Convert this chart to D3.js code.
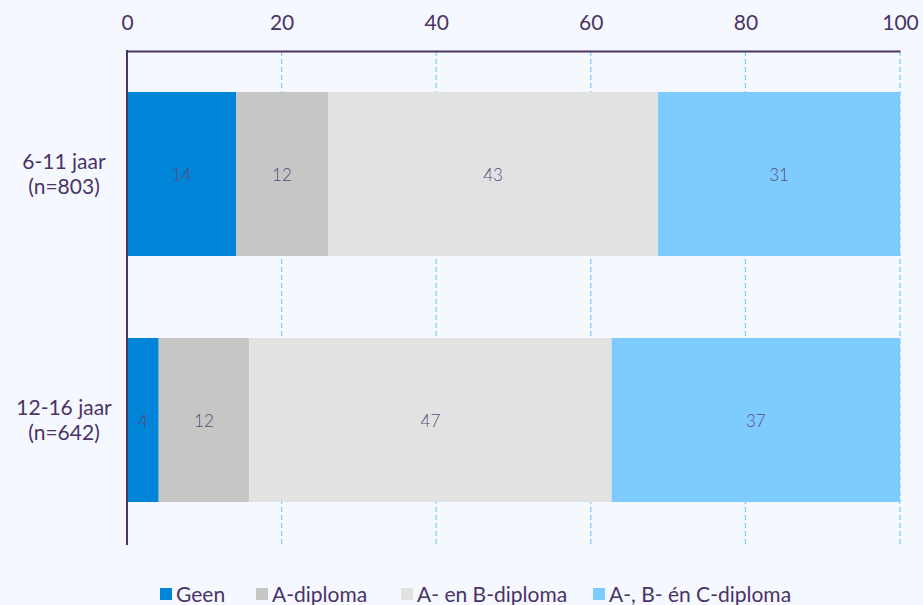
<!DOCTYPE html>
<html><head><meta charset="utf-8">
<script src="https://cdn.jsdelivr.net/npm/d3@7"></script>
<style>
html,body{margin:0;padding:0;background:#f5f8fe;}
svg{display:block;font-family:Lato, "Open Sans", sans-serif;}
</style></head>
<body>
<svg id="c" width="923" height="605"></svg>
<script>
const categories = ["6-11 jaar|(n=803)", "12-16 jaar|(n=642)"];
const seriesNames = ["Geen", "A-diploma", "A- en B-diploma", "A-, B- én C-diploma"];
const geen = [14.1, 4.1];
const aDiploma = [11.9, 11.7];
const abDiploma = [42.7, 46.9];
const abcDiploma = [31.3, 37.3];
const labelsGeen = [14, 4];
const labelsA = [12, 12];
const labelsAB = [43, 47];
const labelsABC = [31, 37];
const xTicks = [0, 20, 40, 60, 80, 100];
const colors = ["#0085d8", "#c6c6c4", "#e2e2e2", "#7ecbff"];

const series = [geen, aDiploma, abDiploma, abcDiploma];
const labels = [labelsGeen, labelsA, labelsAB, labelsABC];

const svg = d3.select("#c");
const x = d3.scaleLinear().domain([0, 100]).range([127, 900]);
const y = d3.scaleBand().domain(categories).range([51, 543]).paddingInner(1/3).paddingOuter(1/6);
const textCol = "#4a3466";

// gridlines
svg.append("g").selectAll("line").data(xTicks.filter(d => d > 0)).join("line")
  .attr("x1", d => x(d)).attr("x2", d => x(d)).attr("y1", 51).attr("y2", 545)
  .attr("stroke", "#80c8f8").attr("stroke-width", 1.2).attr("stroke-dasharray", "5,3");

// bars
categories.forEach((cat, i) => {
  let acc = 0;
  series.forEach((s, k) => {
    const v = s[i];
    svg.append("rect").attr("x", x(acc)).attr("y", y(cat))
      .attr("width", x(acc + v) - x(acc)).attr("height", y.bandwidth())
      .attr("fill", colors[k]);
    svg.append("text").attr("x", (x(acc) + x(acc + v)) / 2).attr("y", y(cat) + y.bandwidth() / 2)
      .attr("text-anchor", "middle").attr("dominant-baseline", "central")
      .attr("font-size", 17).attr("font-weight", 300).attr("fill", "#5b4a78")
      .text(labels[k][i]);
    acc += v;
  });
});

// top axis
const ax = svg.append("g").attr("transform", "translate(0,51)")
  .call(d3.axisTop(x).tickValues(xTicks).tickSize(0).tickPadding(21));
ax.select(".domain").attr("stroke", textCol).attr("stroke-width", 2);
ax.selectAll("text").attr("font-size", 21).attr("fill", textCol).attr("font-family", "Lato");

// left axis line
svg.append("line").attr("x1", 127).attr("x2", 127).attr("y1", 50).attr("y2", 545)
  .attr("stroke", textCol).attr("stroke-width", 2);

// category labels
categories.forEach(cat => {
  const parts = cat.split("|");
  const cy = y(cat) + y.bandwidth() / 2;
  const t = svg.append("text").attr("text-anchor", "middle").attr("font-size", 21).attr("fill", textCol);
  t.append("tspan").attr("x", 64).attr("y", cy - 5).text(parts[0]);
  t.append("tspan").attr("x", 64).attr("y", cy + 20).text(parts[1]);
});

// legend
const legX = [160, 256, 401, 593];
seriesNames.forEach((n, k) => {
  svg.append("rect").attr("x", legX[k]).attr("y", 588).attr("width", 12).attr("height", 12).attr("fill", colors[k]);
  svg.append("text").attr("x", legX[k] + 16).attr("y", 602).attr("font-size", 21).attr("fill", textCol).text(n);
});
</script>
</body></html>
